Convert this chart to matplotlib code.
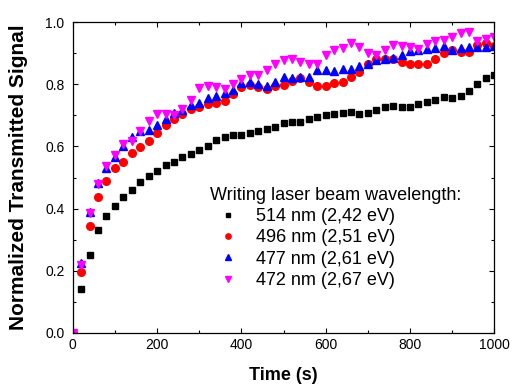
import matplotlib
matplotlib.use("Agg")
from matplotlib import pyplot as plt
from matplotlib.ticker import MultipleLocator, FormatStrFormatter
import numpy as np

plt.rcParams['font.family'] = ['Liberation Sans', 'DejaVu Sans']

# time axis (s), one point every 20 s
time_s = np.arange(0, 1001, 20)

# normalized transmitted signal for each writing wavelength
sig_514 = [0.0, 0.14, 0.25, 0.33, 0.375, 0.41, 0.438, 0.46, 0.485, 0.505,
           0.522, 0.541, 0.551, 0.565, 0.575, 0.588, 0.603, 0.62, 0.632, 0.637,
           0.637, 0.645, 0.649, 0.656, 0.664, 0.675, 0.68, 0.68, 0.69, 0.696,
           0.70, 0.705, 0.707, 0.711, 0.705, 0.707, 0.718, 0.728, 0.729, 0.728,
           0.728, 0.737, 0.744, 0.751, 0.758, 0.757, 0.764, 0.779, 0.80, 0.821,
           0.83]
sig_496 = [0.0, 0.195, 0.344, 0.437, 0.49, 0.53, 0.551, 0.58, 0.598, 0.618,
           0.645, 0.67, 0.69, 0.706, 0.72, 0.728, 0.737, 0.739, 0.747, 0.768,
           0.791, 0.798, 0.792, 0.785, 0.795, 0.798, 0.812, 0.821, 0.807, 0.796,
           0.796, 0.805, 0.808, 0.822, 0.841, 0.864, 0.88, 0.882, 0.88, 0.873,
           0.866, 0.864, 0.864, 0.882, 0.902, 0.912, 0.903, 0.903, 0.926, 0.932,
           0.924]
sig_477 = [0.0, 0.224, 0.39, 0.484, 0.53, 0.567, 0.60, 0.632, 0.65, 0.653,
           0.669, 0.689, 0.707, 0.716, 0.734, 0.74, 0.755, 0.761, 0.771, 0.782,
           0.804, 0.806, 0.80, 0.796, 0.806, 0.822, 0.821, 0.822, 0.825, 0.847,
           0.846, 0.843, 0.849, 0.849, 0.859, 0.866, 0.877, 0.881, 0.886, 0.895,
           0.906, 0.911, 0.914, 0.918, 0.922, 0.911, 0.916, 0.919, 0.919, 0.919,
           0.922]
sig_472 = [0.0, 0.219, 0.385, 0.48, 0.536, 0.573, 0.607, 0.618, 0.649, 0.681,
           0.706, 0.706, 0.70, 0.721, 0.75, 0.788, 0.796, 0.792, 0.785, 0.80,
           0.816, 0.83, 0.83, 0.846, 0.865, 0.877, 0.882, 0.871, 0.867, 0.867,
           0.893, 0.909, 0.916, 0.933, 0.921, 0.901, 0.893, 0.912, 0.928, 0.923,
           0.919, 0.914, 0.93, 0.938, 0.944, 0.952, 0.965, 0.968, 0.941, 0.946,
           0.953]

labels = ["514 nm (2,42 eV)", "496 nm (2,51 eV)",
          "477 nm (2,61 eV)", "472 nm (2,67 eV)"]

fig = plt.figure(figsize=(5.16, 3.89), dpi=100)
ax = fig.add_axes([0.141, 0.144, 0.817, 0.799])

ax.plot(time_s, sig_514, 's', color='black', ms=5, label=labels[0])
ax.plot(time_s, sig_496, 'o', color='red', ms=5.5, label=labels[1])
ax.plot(time_s, sig_477, '^', color='blue', ms=6, label=labels[2])
ax.plot(time_s, sig_472, 'v', color='magenta', ms=6, label=labels[3])

ax.set_xlim(0, 1000)
ax.set_ylim(0, 1.0)
ax.xaxis.set_major_locator(MultipleLocator(200))
ax.xaxis.set_minor_locator(MultipleLocator(100))
ax.yaxis.set_major_locator(MultipleLocator(0.2))
ax.yaxis.set_minor_locator(MultipleLocator(0.1))
ax.yaxis.set_major_formatter(FormatStrFormatter('%.1f'))
ax.tick_params(which='both', direction='in', top=True, right=True, labelsize=10)
ax.tick_params(which='major', length=3.5, width=0.8)
ax.tick_params(which='minor', length=2, width=0.8)
ax.tick_params(axis='y', pad=6)
for sp in ax.spines.values():
    sp.set_linewidth(0.9)

ax.set_xlabel("Time (s)", fontsize=13, fontweight='bold', labelpad=11)
ax.set_ylabel("Normalized Transmitted Signal", fontsize=15, fontweight='bold', labelpad=12)

leg = ax.legend(title="Writing laser beam wavelength:", loc='upper left',
                bbox_to_anchor=(0.325, 0.471), frameon=False, fontsize=13,
                title_fontsize=13, handletextpad=0.57, labelspacing=0.24,
                borderpad=0, borderaxespad=0, alignment='left',
                handlelength=2.0, markerscale=0.7)

fig.savefig("out.png", dpi=100)
